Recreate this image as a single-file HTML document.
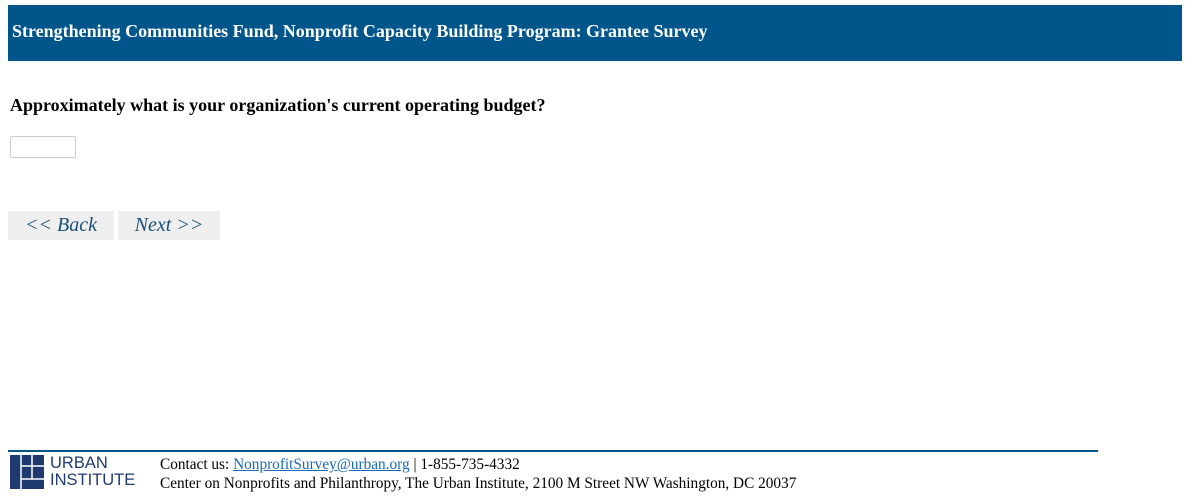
<!DOCTYPE html>
<html><head><style>
body{margin:0;width:1190px;height:499px;background:#fff;position:relative;font-family:"Liberation Serif",serif;overflow:hidden}
.hdr{position:absolute;left:8px;top:5px;width:1174px;height:56px;background:#00568a}
.hdr span{position:absolute;left:4px;top:16px;color:#fff;font-weight:bold;font-size:18px;white-space:nowrap}
.q{position:absolute;left:10px;top:95px;font-weight:bold;font-size:18px;color:#000;white-space:nowrap}
.inp{position:absolute;left:10px;top:136px;width:64px;height:20px;border:1px solid #ccc;border-radius:2px;background:#fff}
.btn{position:absolute;top:211px;height:29px;background:#efefef;color:#1a4f7a;font-style:italic;font-size:20px;line-height:28px;text-align:center}
.line{position:absolute;left:8px;top:450px;width:1090px;height:2px;background:#00568a}
.ui{position:absolute;left:50px;font-family:"Liberation Sans",sans-serif;font-size:16.5px;color:#1f3a6e;line-height:17px}
.ft{position:absolute;left:160px;font-size:15.3px;color:#000;white-space:nowrap}
a{color:#1a6ab8;text-decoration:underline}
</style></head><body>
<div class="hdr"><span>Strengthening Communities Fund, Nonprofit Capacity Building Program: Grantee Survey</span></div>
<div class="q">Approximately what is your organization's current operating budget?</div>
<div class="inp"></div>
<div class="btn" style="left:8px;width:106px">&lt;&lt; Back</div>
<div class="btn" style="left:118px;width:102px">Next &gt;&gt;</div>
<div class="line"></div>
<svg style="position:absolute;left:10px;top:455px" width="34" height="34" viewBox="0 0 34 34">
<rect width="34" height="34" fill="#1f3a6e"/>
<path d="M11 0V34M11 11H34M22 0V24M11 24H34" stroke="#fff" stroke-width="1.5" fill="none"/>
</svg>
<div class="ui" style="top:455px">URBAN</div>
<div class="ui" style="top:472px">INSTITUTE</div>
<div class="ft" style="top:456px">Contact us: <a>NonprofitSurvey@urban.org</a> | 1-855-735-4332</div>
<div class="ft" style="top:475px">Center on Nonprofits and Philanthropy, The Urban Institute, 2100 M Street NW Washington, DC 20037</div>
</body></html>
